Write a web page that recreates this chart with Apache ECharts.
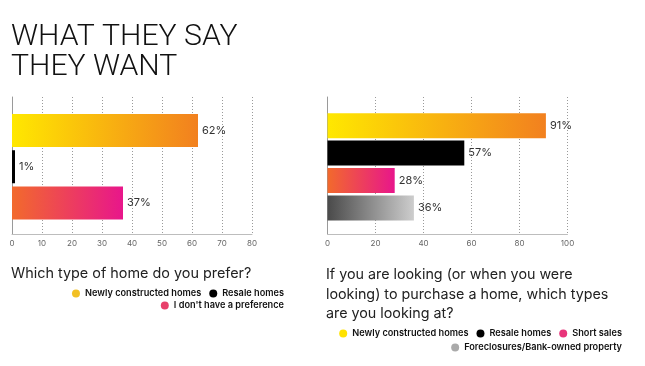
<!DOCTYPE html>
<html>
<head>
<meta charset="utf-8">
<script src="https://cdn.jsdelivr.net/npm/echarts@6/dist/echarts.min.js"></script>
<style>html,body{margin:0;padding:0;background:#fff}#c{width:645px;height:366px}</style>
</head>
<body>
<div id="c"></div>
<script>
// ---- data ----
const leftCategories = ['Newly constructed homes', 'Resale homes', "I don't have a preference"];
const leftValues = [62, 1, 37];
const leftTicks = [0, 10, 20, 30, 40, 50, 60, 70, 80];

const rightCategories = ['Newly constructed homes', 'Resale homes', 'Short sales', 'Foreclosures/Bank-owned property'];
const rightValues = [91, 57, 28, 36];
const rightTicks = [0, 20, 40, 60, 80, 100];

const mainTitle = 'WHAT THEY SAY\nTHEY WANT';
const leftQuestion = 'Which type of home do you prefer?';
const rightQuestion = 'If you are looking (or when you were\nlooking) to purchase a home, which types\nare you looking at?';

// ---- styles ----
const grad = (a, b) => ({type: 'linear', x: 0, y: 0, x2: 1, y2: 0, colorStops: [{offset: 0, color: a}, {offset: 1, color: b}]});
const yellowOrange = grad('#FFE800', '#F2801F');
const orangePink = grad('#F26A2C', '#E8168B');
const greyGrad = grad('#4a4a4a', '#cdcdcd');
const leftBarColors = [yellowOrange, '#000000', orangePink];
const rightBarColors = [yellowOrange, '#000000', orangePink, greyGrad];
const leftLegendColors = ['#F2C024', '#000000', '#E8406A'];
const rightLegendColors = ['#FFE200', '#000000', '#E8347A', '#AAAAAA'];

const FONT = 'Inter, "Noto Sans", sans-serif';

function outerAxes(gridIndex, max, interval) {
  return {
    x: {
      type: 'value', gridIndex, min: 0, max, interval,
      axisLine: {show: true, lineStyle: {color: '#bdbdbd', width: 1}},
      axisTick: {show: false},
      splitLine: {show: true, lineStyle: {color: '#9a9a9a', type: [1, 2], width: 1}},
      axisLabel: {color: '#666', fontSize: 8, fontFamily: FONT, margin: 6, showMinLabel: true, showMaxLabel: true}
    },
    y: {
      type: 'value', gridIndex, min: 0, max: 1,
      axisLine: {show: true, lineStyle: {color: '#9a9a9a', width: 1}},
      axisTick: {show: false}, axisLabel: {show: false}, splitLine: {show: false}
    }
  };
}
function innerAxes(gridIndex, max, cats) {
  return {
    x: {type: 'value', gridIndex, min: 0, max, show: false, splitLine: {show: false}},
    y: {type: 'category', gridIndex, data: cats, inverse: true, show: false}
  };
}

const lo = outerAxes(0, 80, 10), li = innerAxes(1, 80, leftCategories);
const ro = outerAxes(2, 100, 20), ri = innerAxes(3, 100, rightCategories);

function makeSeries(cats, vals, colors, xi, yi, barWidth) {
  return cats.map((name, i) => ({
    type: 'bar', name, xAxisIndex: xi, yAxisIndex: yi, stack: 's' + xi,
    barWidth,
    data: cats.map((_, j) => j === i ? vals[i] : '-'),
    itemStyle: {color: colors[i]},
    label: {show: true, position: 'right', distance: 4, formatter: '{c}%', color: '#333', fontSize: 11, fontFamily: FONT},
    emphasis: {disabled: true},
    animation: false
  }));
}

const legendText = {color: '#111', fontSize: 9.2, fontWeight: 600, fontFamily: FONT};
function legendItems(names, colors, idxs) {
  return idxs.map(i => ({name: names[i], itemStyle: {color: colors[i]}}));
}
function legend(names, colors, idxs, right, top) {
  return {
    data: legendItems(names, colors, idxs), right, top, icon: 'circle',
    itemWidth: 8, itemHeight: 8, itemGap: 8, padding: 0,
    textStyle: legendText, selectedMode: false, orient: 'horizontal'
  };
}

const option = {
  backgroundColor: '#fff',
  animation: false,
  title: [
    {text: mainTitle, left: 11, top: 22, padding: 0,
     textStyle: {fontFamily: 'Roboto, Inter, sans-serif', fontWeight: 300, fontSize: 30.2, lineHeight: 30, color: '#111'}},
    {text: leftQuestion, left: 11, top: 264, padding: 0,
     textStyle: {fontFamily: FONT, fontWeight: 400, fontSize: 14.4, lineHeight: 19.5, color: '#222'}},
    {text: rightQuestion, left: 326, top: 265, padding: 0,
     textStyle: {fontFamily: FONT, fontWeight: 400, fontSize: 14.3, lineHeight: 19.5, color: '#222'}}
  ],
  legend: [
    legend(leftCategories, leftLegendColors, [0, 1], 361, 289),
    legend(leftCategories, leftLegendColors, [2], 361, 301),
    legend(rightCategories, rightLegendColors, [0, 1, 2], 23, 329),
    legend(rightCategories, rightLegendColors, [3], 23, 343)
  ],
  grid: [
    {left: 12, top: 97, width: 240, height: 137},
    {left: 12, top: 112.4, width: 240, height: 108.7},
    {left: 327.5, top: 97, width: 240, height: 137},
    {left: 327.5, top: 112, width: 240, height: 109.6}
  ],
  xAxis: [lo.x, li.x, ro.x, ri.x],
  yAxis: [lo.y, li.y, ro.y, ri.y],
  series: [
    ...makeSeries(leftCategories, leftValues, leftBarColors, 1, 1, 33),
    ...makeSeries(rightCategories, rightValues, rightBarColors, 3, 3, 25)
  ]
};
// tick labels from arrays
option.xAxis[0].axisLabel.formatter = v => leftTicks.includes(v) ? String(v) : '';
option.xAxis[2].axisLabel.formatter = v => rightTicks.includes(v) ? String(v) : '';

const chart = echarts.init(document.getElementById('c'), null, {renderer: 'canvas'});
chart.setOption(option);
</script>
</body>
</html>
